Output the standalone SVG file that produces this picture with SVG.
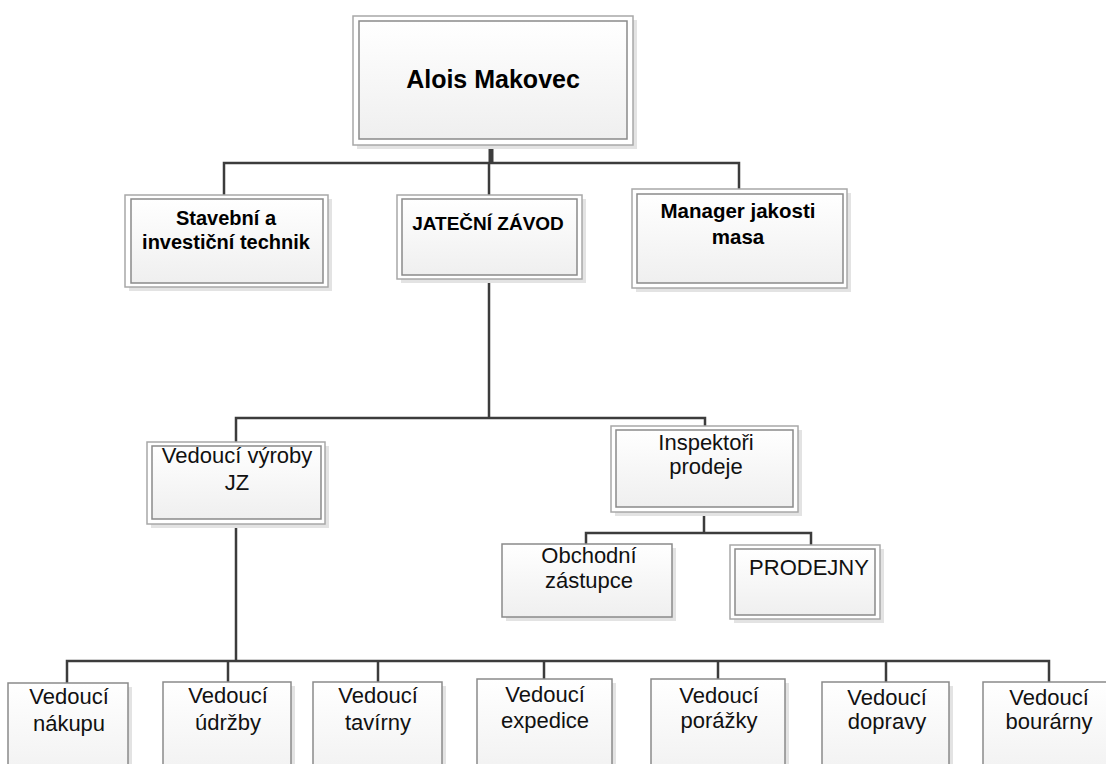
<svg xmlns="http://www.w3.org/2000/svg" width="1106" height="764" viewBox="0 0 1106 764">
<defs>
<linearGradient id="g" x1="0" y1="0" x2="0" y2="1">
<stop offset="0" stop-color="#ffffff"/>
<stop offset="1" stop-color="#efefef"/>
</linearGradient>
<style>
.sh{fill:#e3e3e3}
.out{fill:#ffffff;stroke:#a8a8a8;stroke-width:1.5}
.in{fill:url(#g);stroke:#8a8a8a;stroke-width:1.5}
.one{fill:url(#g);stroke:#8a8a8a;stroke-width:1.5}
.b{font-family:"Liberation Sans",Arial,sans-serif;font-weight:bold;fill:#000;text-anchor:middle}
.r{font-family:"Liberation Sans",Arial,sans-serif;fill:#111;text-anchor:middle;font-size:22px}
.c{fill:none;stroke:#3c3c3c;stroke-width:2.5}
</style>
</defs>
<rect width="1106" height="764" fill="#fff"/>
<g id="connectors">
<path class="c" d="M491 145V163" style="stroke-width:5"/>
<path class="c" d="M224 195V163H739V189M489 163V195"/>
<path class="c" d="M489 279V418M236 442V418H705V426"/>
<path class="c" d="M704 512V533M586 544V533H811V545"/>
<path class="c" d="M236 524V661M67 683V661H1049V682M228 661V682M378 661V682M544 661V679M718 661V679M886 661V682"/>
</g>
<g id="n-alois">
<rect class="sh" x="357" y="20" width="280" height="129"/>
<rect class="out" x="353" y="16" width="280" height="129"/>
<rect class="in" x="359" y="21" width="268" height="118"/>
<text class="b" x="493" y="88" font-size="25">Alois Makovec</text>
</g>
<g id="n-stavebni">
<rect class="sh" x="129" y="199" width="203" height="92"/>
<rect class="out" x="125" y="195" width="203" height="92"/>
<rect class="in" x="131" y="199" width="192" height="84"/>
<text class="b" x="226" y="225" font-size="20">Stavební a</text>
<text class="b" x="226" y="249" font-size="20">investiční technik</text>
</g>
<g id="n-jatecni">
<rect class="sh" x="401" y="199" width="185" height="84"/>
<rect class="out" x="397" y="195" width="185" height="84"/>
<rect class="in" x="402" y="199" width="175" height="76"/>
<text class="b" x="488" y="230" font-size="19">JATEČNÍ ZÁVOD</text>
</g>
<g id="n-manager">
<rect class="sh" x="636" y="193" width="215" height="99"/>
<rect class="out" x="632" y="189" width="215" height="99"/>
<rect class="in" x="637" y="194" width="206" height="89"/>
<text class="b" x="738" y="218" font-size="20.5">Manager jakosti</text>
<text class="b" x="738" y="244" font-size="20.5">masa</text>
</g>
<g id="n-vyroba">
<rect class="sh" x="151" y="446" width="178" height="82"/>
<rect class="out" x="147" y="442" width="178" height="82"/>
<rect class="in" x="152" y="446" width="169" height="73"/>
<text class="r" x="237" y="463">Vedoucí výroby</text>
<text class="r" x="237" y="490">JZ</text>
</g>
<g id="n-inspektori">
<rect class="sh" x="615" y="430" width="187" height="86"/>
<rect class="out" x="611" y="426" width="187" height="86"/>
<rect class="in" x="616" y="430" width="177" height="77"/>
<text class="r" x="706" y="450">Inspektoři</text>
<text class="r" x="706" y="474">prodeje</text>
</g>
<g id="n-obchodni">
<rect class="sh" x="506" y="548" width="170" height="73"/>
<rect class="one" x="502" y="544" width="170" height="73"/>
<text class="r" x="589" y="563">Obchodní</text>
<text class="r" x="589" y="588">zástupce</text>
</g>
<g id="n-prodejny">
<rect class="sh" x="734" y="549" width="150" height="74"/>
<rect class="out" x="730" y="545" width="150" height="74"/>
<rect class="in" x="735" y="549" width="140" height="66"/>
<text class="r" x="809" y="575" font-size="18.5">PRODEJNY</text>
</g>
<g id="n-nakupu">
<rect class="sh" x="12" y="687" width="120" height="110"/>
<rect class="one" x="8" y="683" width="120" height="110"/>
<text class="r" x="69" y="704">Vedoucí</text>
<text class="r" x="69" y="731">nákupu</text>
</g>
<g id="n-udrzby">
<rect class="sh" x="167" y="686" width="128" height="110"/>
<rect class="one" x="163" y="682" width="128" height="110"/>
<text class="r" x="228" y="703">Vedoucí</text>
<text class="r" x="228" y="730">údržby</text>
</g>
<g id="n-taviry">
<rect class="sh" x="317" y="686" width="129" height="110"/>
<rect class="one" x="313" y="682" width="129" height="110"/>
<text class="r" x="378" y="703">Vedoucí</text>
<text class="r" x="378" y="730">tavírny</text>
</g>
<g id="n-expedice">
<rect class="sh" x="481" y="683" width="135" height="110"/>
<rect class="one" x="477" y="679" width="135" height="110"/>
<text class="r" x="545" y="702">Vedoucí</text>
<text class="r" x="545" y="728">expedice</text>
</g>
<g id="n-porazky">
<rect class="sh" x="655" y="683" width="134" height="110"/>
<rect class="one" x="651" y="679" width="134" height="110"/>
<text class="r" x="719" y="703">Vedoucí</text>
<text class="r" x="719" y="728">porážky</text>
</g>
<g id="n-dopravy">
<rect class="sh" x="826" y="686" width="127" height="110"/>
<rect class="one" x="822" y="682" width="127" height="110"/>
<text class="r" x="887" y="705">Vedoucí</text>
<text class="r" x="887" y="729">dopravy</text>
</g>
<g id="n-bourarny">
<rect class="sh" x="987" y="686" width="132" height="110"/>
<rect class="one" x="983" y="682" width="132" height="110"/>
<text class="r" x="1049" y="705">Vedoucí</text>
<text class="r" x="1049" y="729">bourárny</text>
</g>
</svg>
